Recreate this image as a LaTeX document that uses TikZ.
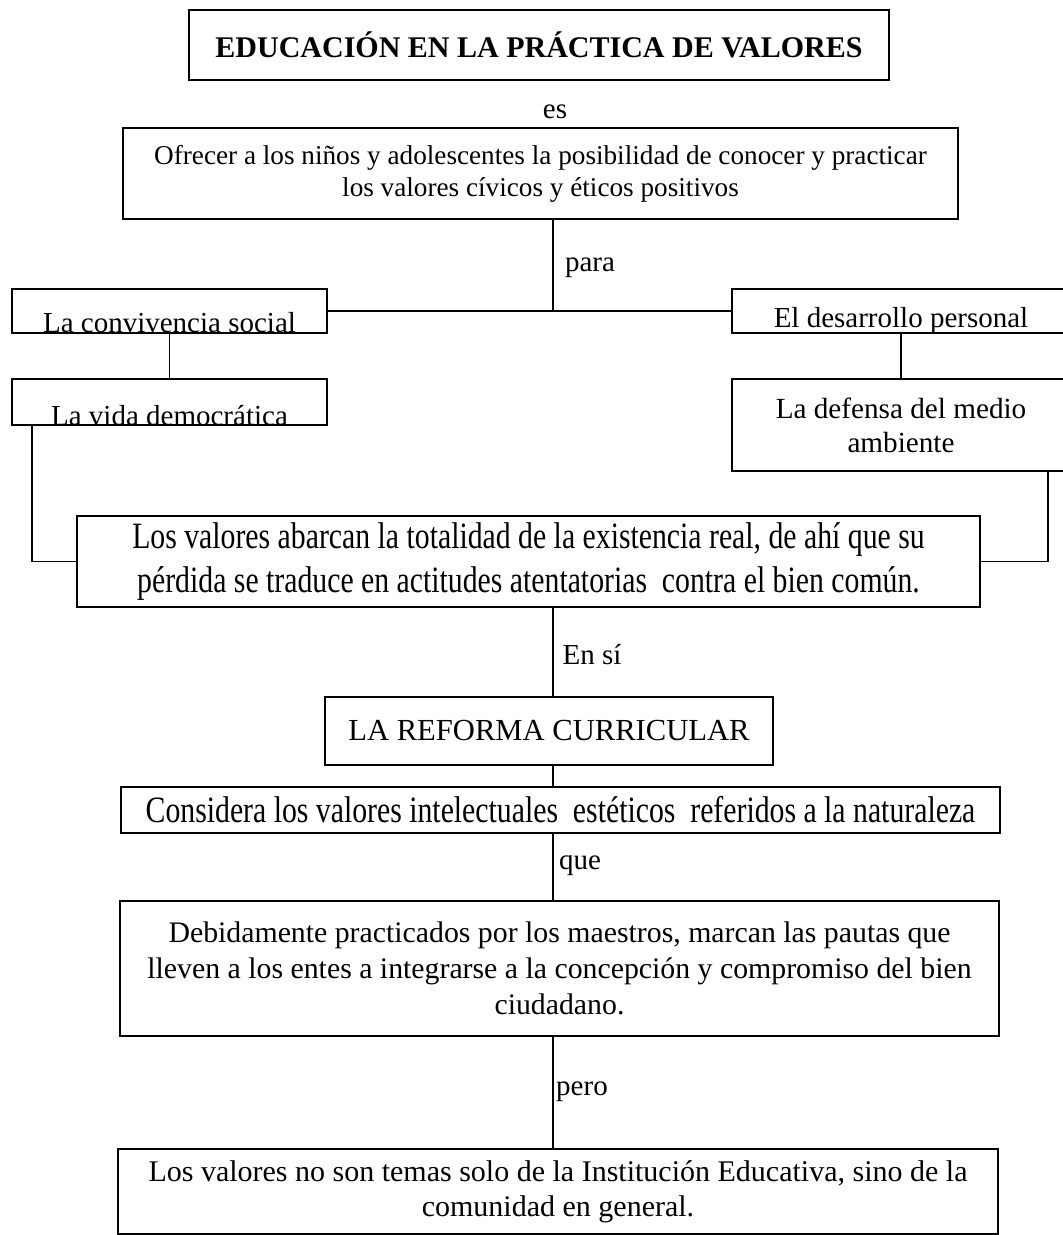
\documentclass[tikz,border=0pt]{standalone}
\usepackage{fontspec}
\setmainfont{Liberation Serif}
\newfontfamily\angosta[FakeStretch=0.8]{Liberation Serif}

\begin{document}
\begin{tikzpicture}[
		x=0.5pt,
		y=-0.5pt,
		every node/.style={font=\fontsize{14.5}{17.5}\selectfont},
		caja/.style={draw, line width=0.9pt, align=center, inner sep=0pt},
		rasante/.style={caja, inner ysep=0pt, text depth=0pt},
		enlace/.style={line width=0.9pt}
	]
		\useasboundingbox (0,0) rectangle (1062,1235);
		\coordinate (eje) at (553,0);

		\node[caja, minimum width=350pt, minimum height=35pt,
			font=\fontsize{15}{18}\selectfont\bfseries]
			(titulo) at (539,45) {EDUCACIÓN EN LA PRÁCTICA DE VALORES};

		\node[caja, minimum width=417.5pt, minimum height=45.5pt,
			font=\fontsize{13.6}{16}\selectfont]
			(ofrecer) at (540.5,173.5)
			{Ofrecer a los niños y adolescentes la posibilidad de conocer y practicar\\
			 los valores cívicos y éticos positivos};

		\node[rasante, minimum width=157.5pt, text height=22pt]
			(convivencia) at (169.5,311) {La convivencia social};
		\node[rasante, minimum width=169pt, text height=19.5pt, text depth=2.5pt]
			(desarrollo) at (901,311) {El desarrollo personal};
		\node[rasante, minimum width=157.5pt, text height=23pt]
			(vida) at (169.5,402) {La vida democrática};
		\node[caja, minimum width=169pt, minimum height=46pt,
			font=\fontsize{14.6}{17}\selectfont]
			(defensa) at (901,425) {La defensa del medio\\ambiente};

		\node[caja, minimum width=451.5pt, minimum height=45.5pt,
			font=\angosta\fontsize{18.6}{22}\selectfont]
			(valores) at (528.5,561.5)
			{Los valores abarcan la totalidad de la existencia real, de ahí que su\\
			 pérdida se traduce en actitudes atentatorias\ \ contra el bien común.};

		\node[caja, minimum width=224pt, minimum height=34pt,
			font=\fontsize{15.3}{18}\selectfont]
			(reforma) at (549,731) {LA REFORMA CURRICULAR};

		\node[caja, minimum width=439.5pt, minimum height=23pt,
			font=\angosta\fontsize{18.6}{22}\selectfont]
			(considera) at (560.5,810)
			{Considera los valores intelectuales\ \ estéticos\ \ referidos a la naturaleza};

		\node[caja, minimum width=439.5pt, minimum height=67.5pt,
			font=\fontsize{14.9}{18}\selectfont]
			(debidamente) at (559.5,968.5)
			{Debidamente practicados por los maestros, marcan las pautas que\\
			 lleven a los entes a integrarse a la concepción y compromiso del bien\\
			 ciudadano.};

		\node[caja, minimum width=440pt, minimum height=42.5pt,
			font=\fontsize{15}{17.5}\selectfont]
			(comunidad) at (558,1191.5)
			{Los valores no son temas solo de la Institución Educativa, sino de la\\
			 comunidad en general.};

		% palabras de enlace
		\foreach \nombre/\px/\py/\texto in {
			es/555/112/es,
			para/590/268/para,
			ensi/592/655/En sí,
			que/580/866/que,
			pero/582/1092/pero
		}{
			\node (\nombre) at (\px,\py) {\texto};
		}

		\draw[enlace] (ofrecer.south -| eje) -- (convivencia.east -| eje);
		\draw[enlace] (convivencia.east) -- (desarrollo.west);
		\draw[enlace] (convivencia.south) -- (vida.north);
		\draw[enlace] (desarrollo.south) -- (defensa.north);
		\draw[enlace] ([xshift=10.5pt]vida.south west) |- (valores.west);
		\draw[enlace] ([xshift=-11.5pt]defensa.south east) |- (valores.east);
		\draw[enlace] (valores.south -| eje) -- (reforma.north -| eje);
		\draw[enlace] (reforma.south -| eje) -- (considera.north -| eje);
		\draw[enlace] (considera.south -| eje) -- (debidamente.north -| eje);
		\draw[enlace] (debidamente.south -| eje) -- (comunidad.north -| eje);
	\end{tikzpicture}
\end{document}
